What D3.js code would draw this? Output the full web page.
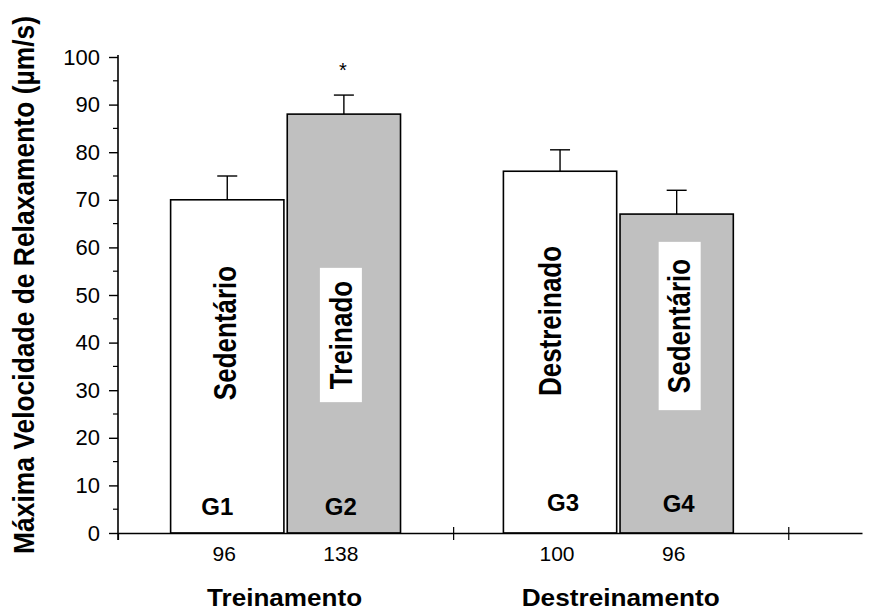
<!DOCTYPE html>
<html>
<head>
<meta charset="utf-8">
<script src="https://cdn.jsdelivr.net/npm/d3@7"></script>
<style>
  html, body { margin: 0; padding: 0; background: #fff; }
  svg { display: block; font-family: "Liberation Sans", Arial, sans-serif; }
</style>
</head>
<body>
<svg id="chart" width="875" height="610"></svg>
<script>
// Maximum relaxation velocity per group (mean ± SEM)
const groupNames = ["Treinamento", "Destreinamento"];
const groupCenters = [0.5, 1.5];
const barIds = ["G1", "G2", "G3", "G4"];
const barGroup = [0, 0, 1, 1];
const barSide = [-1, 1, -1, 1];
const conditions = ["Sedentário", "Treinado", "Destreinado", "Sedentário"];
const means = [70, 88, 76, 67];
const sem = [5, 4, 4.5, 5];
const sampleSizes = ["96", "138", "100", "96"];
const significance = ["", "*", "", ""];
const yTickValues = [0, 10, 20, 30, 40, 50, 60, 70, 80, 90, 100];
const yMinorValues = [5, 15, 25, 35, 45, 55, 65, 75, 85, 95];
const xTickValues = [0, 1, 2];
const yTitle = "Máxima Velocidade de Relaxamento (µm/s)";

const fills = ["#ffffff", "#c0c0c0", "#ffffff", "#c0c0c0"];
const boxedLabel = [false, true, false, true];

const svg = d3.select("#chart");

const x = d3.scaleLinear().domain([0, 2.22]).range([118, 862]);
const y = d3.scaleLinear().domain([0, 100]).range([533, 57]);

const halfWidth = 0.343, gap = 0.005;
const barLeft = i => groupCenters[barGroup[i]] + (barSide[i] < 0 ? -halfWidth : gap) - (barGroup[i] === 1 ? 0.007 : 0);
const barRight = i => barLeft(i) + (halfWidth - gap);
const barMid = i => (x(barLeft(i)) + x(barRight(i))) / 2;

const idx = d3.range(means.length);

// Bars
svg.append("g").selectAll("rect")
  .data(idx).join("rect")
  .attr("x", i => x(barLeft(i)))
  .attr("y", i => y(means[i]))
  .attr("width", i => x(barRight(i)) - x(barLeft(i)))
  .attr("height", i => y(0) - y(means[i]))
  .attr("fill", i => fills[i])
  .attr("stroke", "#000")
  .attr("stroke-width", 1.6);

// Error bars (upper only)
const eb = svg.append("g").attr("stroke", "#000").attr("stroke-width", 1.4);
eb.selectAll("line.v").data(idx).join("line").attr("class", "v")
  .attr("x1", barMid).attr("x2", barMid)
  .attr("y1", i => y(means[i])).attr("y2", i => y(means[i] + sem[i]));
eb.selectAll("line.c").data(idx).join("line").attr("class", "c")
  .attr("x1", i => barMid(i) - 10).attr("x2", i => barMid(i) + 10)
  .attr("y1", i => y(means[i] + sem[i])).attr("y2", i => y(means[i] + sem[i]));

// Significance marks
svg.append("g").selectAll("text").data(idx).join("text")
  .attr("x", i => barMid(i) - 1)
  .attr("y", i => y(means[i] + sem[i]) - 18)
  .attr("text-anchor", "middle")
  .attr("font-size", 20)
  .text(i => significance[i]);

// Rotated condition labels inside bars
const labelCenterY = [333, 335, 321, 326];
const labelOffsetX = [-2, -3, -10, 3];
const labelGroup = svg.append("g");
idx.forEach(i => {
  const g = labelGroup.append("g")
    .attr("transform", `translate(${barMid(i) + labelOffsetX[i]},${labelCenterY[i]}) scale(1.2,1) rotate(-90)`);
  const t = g.append("text")
    .attr("x", 0).attr("y", 9)
    .attr("text-anchor", "middle")
    .attr("font-size", 26)
    .attr("font-weight", "bold")
    .text(conditions[i]);
  if (boxedLabel[i]) {
    const bb = t.node().getBBox();
    const padL = i === 1 ? 13 : 17;
    g.insert("rect", "text")
      .attr("x", bb.x - padL).attr("width", bb.width + 2 * padL)
      .attr("y", -17.5).attr("height", 35)
      .attr("fill", "#fff");
  }
});

// Group IDs at bar bottoms
const idShiftX = [-10, -3, 3, 2];
const idBaseline = [515, 515, 511, 512];
svg.append("g").selectAll("text").data(idx).join("text")
  .attr("x", i => barMid(i) + idShiftX[i])
  .attr("y", i => idBaseline[i])
  .attr("text-anchor", "middle")
  .attr("font-size", 24)
  .attr("font-weight", "bold")
  .text(i => barIds[i]);

// Y axis
const yAxis = d3.axisLeft(y).tickValues(yTickValues).tickSize(9).tickSizeOuter(0).tickPadding(9);
const yg = svg.append("g").attr("transform", `translate(${x(0)},0)`).call(yAxis);
yg.select(".domain").remove();
yg.selectAll(".tick line").attr("stroke", "#000").attr("stroke-width", 1.4);
yg.selectAll(".tick text").attr("font-size", 22).attr("fill", "#000")
  .attr("font-family", "'Liberation Sans', Arial, sans-serif");
yg.selectAll(".minor").data(yMinorValues).join("line").attr("class", "minor")
  .attr("x1", -5).attr("x2", 0)
  .attr("y1", d => y(d)).attr("y2", d => y(d))
  .attr("stroke", "#000").attr("stroke-width", 1.2);
yg.append("line").attr("x1", 0).attr("x2", 0)
  .attr("y1", y(100) - 2).attr("y2", y(0) + 7)
  .attr("stroke", "#000").attr("stroke-width", 1.6);

// X axis
const xAxis = d3.axisBottom(x).tickValues(xTickValues).tickSize(0).tickFormat("");
const xg = svg.append("g").attr("transform", `translate(0,${y(0)})`).call(xAxis);
xg.select(".domain").attr("stroke", "#000").attr("stroke-width", 1.6);
xg.selectAll(".tick line").attr("y1", d => d === 0 ? 0 : -6).attr("y2", 7)
  .attr("stroke", "#000").attr("stroke-width", 1.2);

// Sample sizes under bars
const nShiftX = [-3, -3, -3, -3];
svg.append("g").selectAll("text").data(idx).join("text")
  .attr("x", i => barMid(i) + nShiftX[i])
  .attr("y", 561)
  .attr("text-anchor", "middle")
  .attr("font-size", 21)
  .text(i => sampleSizes[i]);

// Group names
const groupLen = [155, 198];
svg.append("g").selectAll("text").data(groupNames).join("text")
  .attr("x", (d, j) => x(groupCenters[j]) + (j === 0 ? -1 : 0))
  .attr("y", 606)
  .attr("text-anchor", "middle")
  .attr("font-size", 24)
  .attr("font-weight", "bold")
  .attr("textLength", (d, j) => groupLen[j])
  .attr("lengthAdjust", "spacingAndGlyphs")
  .text(d => d);

// Y axis title
svg.append("text")
  .attr("transform", "translate(34,285) scale(1.1,1) rotate(-90)")
  .attr("text-anchor", "middle")
  .attr("font-size", 26)
  .attr("font-weight", "bold")
  .attr("textLength", 538)
  .attr("lengthAdjust", "spacingAndGlyphs")
  .text(yTitle);
</script>
</body>
</html>
